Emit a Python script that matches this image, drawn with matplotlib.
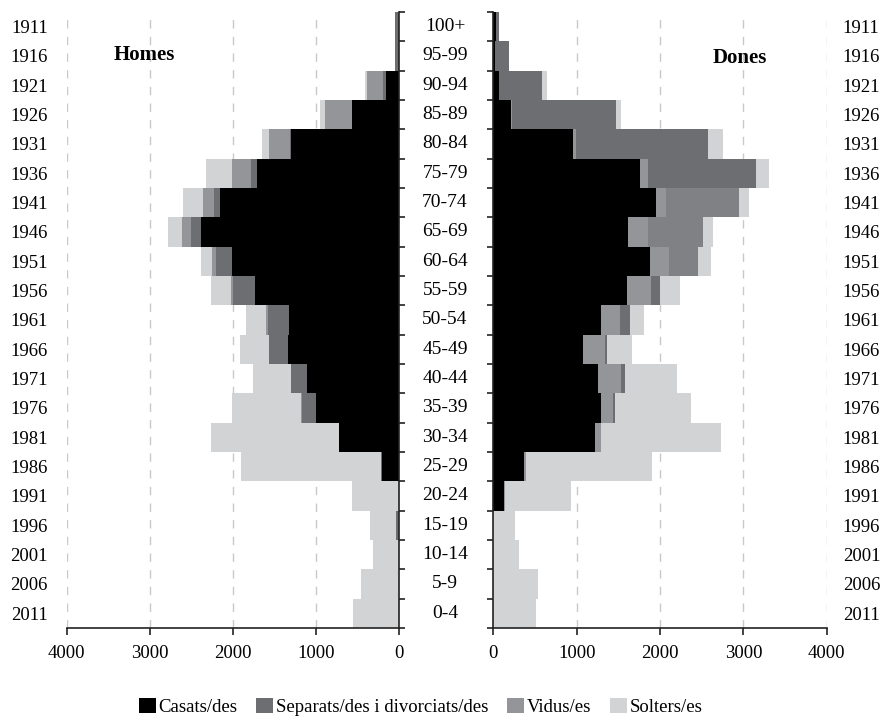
import numpy as np
import matplotlib
matplotlib.use("Agg")
import matplotlib.pyplot as plt
from matplotlib.patches import Patch
from matplotlib.transforms import blended_transform_factory

plt.rcParams['font.family'] = ['Liberation Serif', 'DejaVu Serif']

# grups d'edat (de jove a vell) i any de naixement
edats = ['0-4', '5-9', '10-14', '15-19', '20-24', '25-29', '30-34', '35-39', '40-44',
         '45-49', '50-54', '55-59', '60-64', '65-69', '70-74', '75-79', '80-84',
         '85-89', '90-94', '95-99', '100+']
anys = ['2011', '2006', '2001', '1996', '1991', '1986', '1981', '1976', '1971', '1966',
        '1961', '1956', '1951', '1946', '1941', '1936', '1931', '1926', '1921', '1916', '1911']

# Homes
h_casats = [0, 0, 0, 0, 0, 209, 719, 999, 1111, 1336, 1328, 1734, 2015, 2384, 2155,
            1713, 1304, 565, 156, 0, 0]
h_separats = [0, 0, 0, 35, 0, 10, 0, 173, 189, 229, 245, 261, 188, 120, 72,
              69, 10, 5, 30, 45, 45]
h_vidus = [0, 0, 0, 0, 0, 0, 0, 10, 0, 5, 28, 32, 52, 109, 137,
           229, 247, 321, 200, 0, 0]
h_solters = [558, 457, 309, 314, 566, 1683, 1544, 825, 454, 344, 241, 236, 129, 168, 236,
             313, 85, 60, 22, 0, 0]

# Dones
d_casats = [0, 0, 0, 0, 128, 372, 1220, 1292, 1260, 1080, 1292, 1600, 1880, 1612, 1948,
            1760, 960, 208, 72, 15, 30]
d_separats = [0, 0, 0, 0, 10, 15, 72, 148, 272, 260, 228, 288, 228, 248, 120,
              100, 32, 10, 0, 0, 0]
d_vidus = [0, 0, 0, 0, 0, 0, 0, 20, 48, 24, 120, 112, 352, 652, 876,
           1292, 1588, 1254, 508, 170, 42]
d_solters = [508, 532, 308, 260, 790, 1513, 1436, 908, 620, 300, 168, 240, 148, 128, 120,
             152, 180, 56, 60, 0, 0]

categories = ['Casats/des', 'Separats/des i divorciats/des', 'Vidus/es', 'Solters/es']
colors = ['#000000', '#6d6e71', '#939598', '#d1d3d4']

fig = plt.figure(figsize=(8.84, 7.2), dpi=100)
ax_l = fig.add_axes([0.0754, 0.1278, 0.3759, 0.8556])
ax_r = fig.add_axes([0.5581, 0.1278, 0.3771, 0.8556])

y = np.arange(len(edats))

# homes: casats, separats, vidus, solters
left = np.zeros(len(edats))
for vals, c in zip([h_casats, h_separats, h_vidus, h_solters], colors):
    ax_l.barh(y, vals, left=left, height=1.0, color=c, linewidth=0, zorder=2)
    left += np.array(vals)

# dones: el gràfic original pinta separats amb gris mig i vidus amb gris fosc
vid_cols = ['#808184' if 12 <= i <= 14 else '#6d6e71' for i in range(len(edats))]
left = np.zeros(len(edats))
for vals, c in zip([d_casats, d_separats, d_vidus, d_solters],
                   [colors[0], colors[2], vid_cols, colors[3]]):
    ax_r.barh(y, vals, left=left, height=1.0, color=c, linewidth=0, zorder=2)
    left += np.array(vals)

for ax in (ax_l, ax_r):
    ax.set_ylim(-0.5, len(edats) - 0.5)
    ax.set_xlim(0, 4000)
    ax.set_xticks([0, 1000, 2000, 3000, 4000])
    ax.set_yticks(y)
    ax.set_yticks(np.arange(-0.5, len(edats), 1.0), minor=True)
    ax.grid(axis='x', which='major', linestyle=(0, (6, 6)), color='#c8c8c8', linewidth=1.0, zorder=0)
    ax.set_axisbelow(True)
    ax.spines['top'].set_visible(False)
    for s in ax.spines.values():
        s.set_linewidth(1.2)
        s.set_color('#222222')
    ax.tick_params(axis='x', direction='out', length=5, width=1.2, labelsize=13.5, pad=7, color='#222222')

ax_l.invert_xaxis()
ax_l.spines['left'].set_visible(False)
ax_l.tick_params(axis='y', which='major', left=False, right=False, labelleft=True, labelsize=13.5, pad=10)
ax_l.tick_params(axis='y', which='minor', left=False, right=True, direction='out', length=4, width=1.2, color='#222222')
ax_l.set_yticklabels(anys)

ax_r.spines['right'].set_visible(False)
ax_r.tick_params(axis='y', which='major', left=False, right=False, labelleft=False, labelright=True,
                 labelsize=13.5, pad=8)
ax_r.tick_params(axis='y', which='minor', left=True, right=False, direction='out', length=4, width=1.2, color='#222222')
ax_r.set_yticklabels(anys)

# etiquetes d'edat al mig
tr = blended_transform_factory(ax_r.transAxes, ax_r.transData)
for i, e in enumerate(edats):
    ax_r.text(-0.145, i, e, transform=tr, ha='center', va='center', fontsize=14)

ax_l.text(0.235, 0.93, 'Homes', transform=ax_l.transAxes, ha='center', va='center',
          fontsize=15, fontweight='bold')
ax_r.text(0.74, 0.925, 'Dones', transform=ax_r.transAxes, ha='center', va='center',
          fontsize=15, fontweight='bold')

handles = [Patch(facecolor=c, edgecolor='none') for c in colors]
fig.legend(handles, categories, loc='lower center', ncol=4, frameon=False,
           bbox_to_anchor=(0.476, -0.018), fontsize=13.5, handlelength=0.9, handleheight=0.9,
           handletextpad=0.15, columnspacing=1.0)

fig.savefig('out.png', dpi=100)
